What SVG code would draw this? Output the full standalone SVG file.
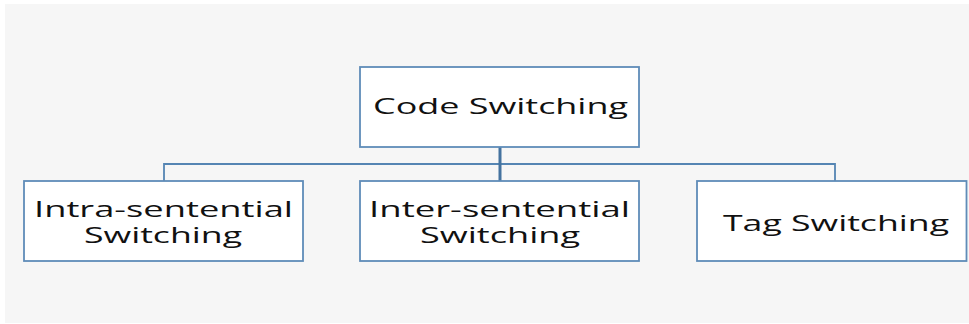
<svg xmlns="http://www.w3.org/2000/svg" width="969" height="324" viewBox="0 0 969 324">
  <style>
    .box { fill: #ffffff; stroke: #5f8cb8; stroke-width: 1.8; }
    .link { fill: none; stroke: #5585b3; stroke-width: 1.8; }
    .trunk { fill: none; stroke: #44729f; stroke-width: 3; }
    .label { font-family: "Open Sans", "Noto Sans", sans-serif; font-size: 21px; fill: #111111; }
  </style>
  <rect x="0" y="0" width="969" height="324" fill="#ffffff"/>
  <rect x="5" y="4" width="964" height="319" fill="#f6f6f6"/>

  <g id="connectors">
    <polyline class="link" points="164,181 164,164 835,164 835,181"/>
    <line class="trunk" x1="500" y1="147" x2="500" y2="181"/>
  </g>

  <g id="code-switching">
    <rect class="box" x="360" y="67" width="279" height="80"/>
    <text class="label" x="373" y="114" textLength="255" lengthAdjust="spacingAndGlyphs">Code Switching</text>
  </g>

  <g id="intra-sentential">
    <rect class="box" x="24" y="181" width="279" height="80"/>
    <text class="label" x="34" y="217" textLength="259" lengthAdjust="spacingAndGlyphs">Intra-sentential</text>
    <text class="label" x="84" y="243" textLength="158" lengthAdjust="spacingAndGlyphs">Switching</text>
  </g>

  <g id="inter-sentential">
    <rect class="box" x="360" y="181" width="279" height="80"/>
    <text class="label" x="369" y="217" textLength="261" lengthAdjust="spacingAndGlyphs">Inter-sentential</text>
    <text class="label" x="420" y="243" textLength="160" lengthAdjust="spacingAndGlyphs">Switching</text>
  </g>

  <g id="tag-switching">
    <rect class="box" x="697" y="181" width="269.5" height="80"/>
    <text class="label" x="723" y="231" textLength="226" lengthAdjust="spacingAndGlyphs">Tag Switching</text>
  </g>
</svg>
